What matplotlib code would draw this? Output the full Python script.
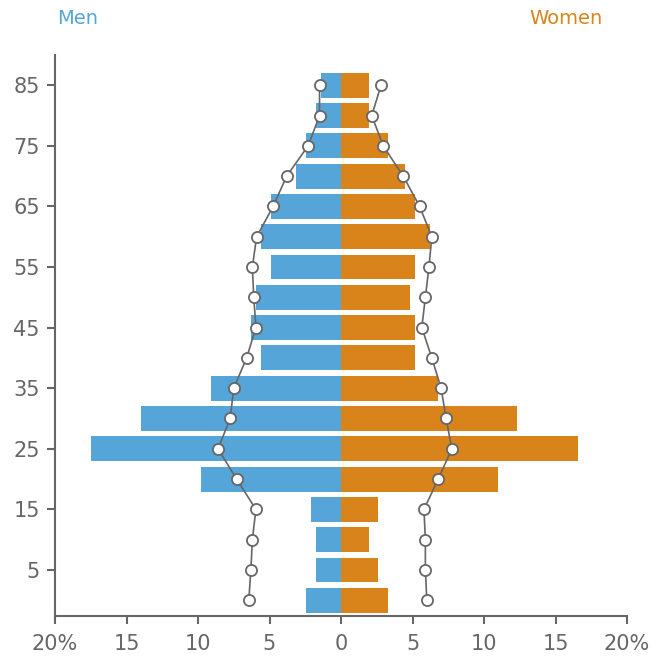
import matplotlib
matplotlib.use("Agg")
import matplotlib.pyplot as plt
import numpy as np

ages = [0, 5, 10, 15, 20, 25, 30, 35, 40, 45, 50, 55, 60, 65, 70, 75, 80, 85]
men = [2.45, 1.75, 1.75, 2.1, 9.8, 17.5, 14.0, 9.1, 5.6, 6.3, 5.95, 4.9, 5.6, 4.9, 3.15, 2.45, 1.75, 1.4]
women = [3.3, 2.6, 1.95, 2.6, 11.0, 16.6, 12.3, 6.8, 5.2, 5.2, 4.8, 5.2, 6.2, 5.2, 4.5, 3.3, 1.95, 1.95]
men_ref = [6.45, 6.3, 6.2, 5.95, 7.3, 8.6, 7.75, 7.5, 6.6, 5.95, 6.1, 6.2, 5.9, 4.75, 3.8, 2.3, 1.5, 1.5]
women_ref = [6.0, 5.9, 5.9, 5.8, 6.8, 7.75, 7.35, 7.0, 6.35, 5.65, 5.9, 6.15, 6.35, 5.5, 4.35, 2.95, 2.15, 2.8]
xticks = [-20, -15, -10, -5, 0, 5, 10, 15, 20]
xticklabels = ["20%", "15", "10", "5", "0", "5", "10", "15", "20%"]
yticks = [5, 15, 25, 35, 45, 55, 65, 75, 85]

blue = "#55A5D9"
orange = "#D8841A"
gray = "#666666"

fig = plt.figure(figsize=(6.54, 6.59), dpi=100)
ax = fig.add_axes([55/654, 1-616/659, (627-55)/654, (616-55)/659])

ages_a = np.array(ages)
ax.barh(ages_a, -np.array(men), height=4.1, color=blue, zorder=2)
ax.barh(ages_a, np.array(women), height=4.1, color=orange, zorder=2)
ax.plot(-np.array(men_ref), ages_a, '-o', color=gray, lw=1.2, ms=8,
        mfc='white', mec=gray, mew=1.3, zorder=3)
ax.plot(np.array(women_ref), ages_a, '-o', color=gray, lw=1.2, ms=8,
        mfc='white', mec=gray, mew=1.3, zorder=3)

ax.set_xlim(-20, 20)
ax.set_ylim(-2.6, 90)
ax.set_xticks(xticks)
ax.set_xticklabels(xticklabels)
ax.set_yticks(yticks)
for s in ["top", "right"]:
    ax.spines[s].set_visible(False)
for s in ["left", "bottom"]:
    ax.spines[s].set_color(gray)
    ax.spines[s].set_linewidth(1.5)
ax.tick_params(axis='both', colors=gray, labelcolor=gray, labelsize=15,
               length=6, width=1.5, direction='out')
ax.tick_params(axis='x', pad=7)
ax.tick_params(axis='y', pad=5)

fig.text(78/654, 1-19/659, "Men", color=blue, fontsize=14, ha='center', va='center')
fig.text(566/654, 1-19/659, "Women", color=orange, fontsize=14, ha='center', va='center')

fig.savefig("out.png", dpi=100)
